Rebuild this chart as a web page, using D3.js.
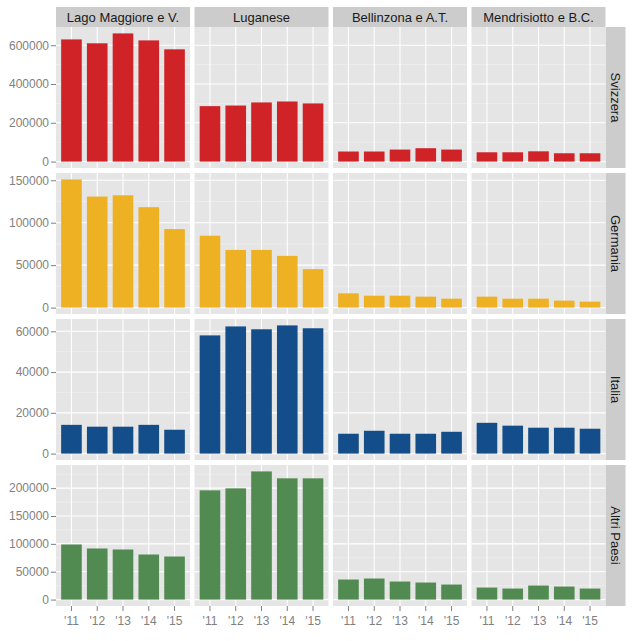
<!DOCTYPE html>
<html lang="it">
<head>
<meta charset="UTF-8">
<title>Pernottamenti per regione e provenienza</title>
<style>
  * { margin: 0; padding: 0; }
  body { background: #fff; font-family: 'Liberation Sans', Arial, sans-serif; }
  svg { display: block; }
  .axis text { fill: #7f7f7f; font-size: 12px; font-family: 'Liberation Sans', Arial, sans-serif; }
  .axis line { stroke: #7f7f7f; }
  .strip-label { font-size: 13px; fill: #1a1a1a; text-anchor: middle; dominant-baseline: central; }
</style>
</head>
<body>
<svg width="635" height="641"></svg>
<script src="https://d3js.org/d3.v7.min.js"></script>
<script>
// Data

const years = ["'11", "'12", "'13", "'14", "'15"];
const regions = ['Lago Maggiore e V.', 'Luganese', 'Bellinzona e A.T.', 'Mendrisiotto e B.C.'];
const countries = ['Svizzera', 'Germania', 'Italia', 'Altri Paesi'];
const colors = ['#cf2328', '#eeb124', '#134d8a', '#528b52'];

// one array per region, values for '11..'15
const svizzera = [
  [630000, 610000, 661000, 625000, 579000],
  [286000, 289000, 305000, 310000, 300000],
  [52000, 52000, 62000, 69000, 62000],
  [48000, 48000, 53000, 43000, 43000],
];
const germania = [
  [151000, 130800, 132300, 118300, 92500],
  [84700, 67900, 67900, 60900, 45300],
  [16800, 14000, 14000, 12900, 10500],
  [12900, 10500, 10500, 8200, 7000],
];
const italia = [
  [14100, 13200, 13200, 14100, 11700],
  [58000, 62400, 61000, 62900, 61500],
  [9750, 11200, 9750, 9750, 10700],
  [15100, 13700, 12700, 12700, 12200],
];
const altri = [
  [98900, 91700, 89900, 80900, 77300],
  [196000, 199600, 230000, 217600, 217600],
  [36000, 37800, 32400, 30600, 27000],
  [21600, 19800, 25200, 23400, 19800],
];
const rowData = [svizzera, germania, italia, altri];

const yTicks = [
  [0, 200000, 400000, 600000],
  [0, 50000, 100000, 150000],
  [0, 20000, 40000, 60000],
  [0, 50000, 100000, 150000, 200000],
];

// Layout

const plotLeft = 56, plotRight = 605.5, plotTop = 27, plotBottom = 606;
const colGap = 4.5, rowGap = 5, stripH = 20, stripW = 20;
const colW = (plotRight - plotLeft - colGap * 3) / 4;
const rowH = (plotBottom - plotTop - rowGap * 3) / 4;

const svg = d3.select('svg');

regions.forEach((region, c) => {
  const x0 = plotLeft + c * (colW + colGap);
  svg.append('rect')
    .attr('x', x0).attr('y', plotTop - stripH)
    .attr('width', colW).attr('height', stripH)
    .attr('fill', '#cccccc');
  svg.append('text')
    .attr('class', 'strip-label')
    .attr('x', x0 + colW / 2).attr('y', plotTop - stripH / 2)
    .text(region);
});

countries.forEach((country, r) => {
  const y0 = plotTop + r * (rowH + rowGap);
  const data = rowData[r];
  const maxVal = d3.max(data.flat());

  const y = d3.scaleLinear()
    .domain([-0.05 * maxVal, 1.05 * maxVal])
    .range([y0 + rowH, y0]);

  const majors = yTicks[r];
  const step = majors[1] - majors[0];
  const minors = d3.range(majors[0] - step / 2, majors[majors.length - 1] + step, step)
    .filter(v => v > y.domain()[0] && v < y.domain()[1]);

  // right strip
  svg.append('rect')
    .attr('x', plotRight).attr('y', y0)
    .attr('width', stripW).attr('height', rowH)
    .attr('fill', '#cccccc');
  svg.append('text')
    .attr('class', 'strip-label')
    .attr('transform', `translate(${plotRight + stripW / 2},${y0 + rowH / 2}) rotate(90)`)
    .text(country);

  regions.forEach((region, c) => {
    const x0 = plotLeft + c * (colW + colGap);
    const x = d3.scaleBand()
      .domain(years)
      .range([x0, x0 + colW])
      .paddingInner(0.2)
      .paddingOuter(0.2);

    const g = svg.append('g');

    g.append('rect')
      .attr('x', x0).attr('y', y0)
      .attr('width', colW).attr('height', rowH)
      .attr('fill', '#e5e5e5');

    g.selectAll('line.minor')
      .data(minors).join('line')
      .attr('class', 'minor')
      .attr('x1', x0).attr('x2', x0 + colW)
      .attr('y1', d => y(d)).attr('y2', d => y(d))
      .attr('stroke', '#f2f2f2').attr('stroke-width', 0.6);

    g.selectAll('line.major')
      .data(majors).join('line')
      .attr('class', 'major')
      .attr('x1', x0).attr('x2', x0 + colW)
      .attr('y1', d => y(d)).attr('y2', d => y(d))
      .attr('stroke', '#fff').attr('stroke-width', 1.1);

    g.selectAll('line.vgrid')
      .data(years).join('line')
      .attr('class', 'vgrid')
      .attr('x1', d => x(d) + x.bandwidth() / 2).attr('x2', d => x(d) + x.bandwidth() / 2)
      .attr('y1', y0).attr('y2', y0 + rowH)
      .attr('stroke', '#fff').attr('stroke-width', 1.1);

    g.selectAll('rect.bar')
      .data(data[c]).join('rect')
      .attr('class', 'bar')
      .attr('x', (d, i) => x(years[i]))
      .attr('width', x.bandwidth())
      .attr('y', d => y(d))
      .attr('height', d => y(0) - y(d))
      .attr('fill', colors[r]);

    if (c === 0) {
      svg.append('g')
        .attr('class', 'axis')
        .attr('transform', `translate(${x0},0)`)
        .call(d3.axisLeft(y).tickValues(majors).tickFormat(d3.format('d')).tickSize(5).tickPadding(2))
        .call(a => a.select('.domain').remove());
    }

    if (r === countries.length - 1) {
      svg.append('g')
        .attr('class', 'axis')
        .attr('transform', `translate(0,${y0 + rowH})`)
        .call(d3.axisBottom(x).tickSize(5).tickPadding(5))
        .call(a => a.select('.domain').remove());
    }
  });
});
</script>
</body>
</html>
